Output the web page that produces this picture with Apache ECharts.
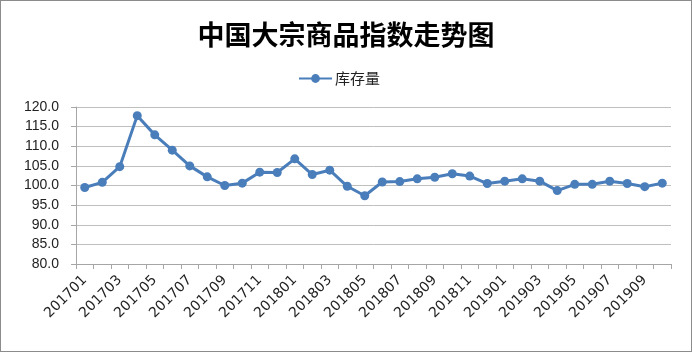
<!DOCTYPE html>
<html><head><meta charset="utf-8">
<script src="https://cdn.jsdelivr.net/npm/echarts@6/dist/echarts.min.js"></script>
<style>html,body{margin:0;padding:0;background:#fff}#c{width:690px;height:350px;border:1px solid #8c8c8c}</style>
</head><body><div id="c"></div>
<script>
const categories = ['201701','201702','201703','201704','201705','201706','201707','201708','201709','201710','201711','201712',
'201801','201802','201803','201804','201805','201806','201807','201808','201809','201810','201811','201812',
'201901','201902','201903','201904','201905','201906','201907','201908','201909','201910'];
const inventory = [99.5,100.8,104.8,117.8,112.9,109.0,105.0,102.2,100.0,100.6,103.4,103.3,
106.8,102.8,103.9,99.8,97.4,100.9,101.0,101.7,102.1,103.0,102.4,100.5,
101.1,101.7,101.1,98.7,100.3,100.3,101.1,100.5,99.7,100.6];
const chart = echarts.init(document.getElementById('c'));
chart.setOption({
  animation:false,
  title:{text:'中国大宗商品指数走势图',left:'center',top:15,
    textStyle:{fontFamily:'Noto Sans CJK SC',fontWeight:'bold',fontSize:27,color:'#000'}},
  legend:{data:['库存量'],top:65,left:292,itemWidth:33,itemHeight:11,itemGap:4,
    textStyle:{fontFamily:'Noto Sans CJK SC',fontSize:15,color:'#222',padding:[0,0,0,-2]}},
  grid:{left:75,right:20,top:106,bottom:87},
  xAxis:{type:'category',data:categories,boundaryGap:true,
    axisLine:{lineStyle:{color:'#a6a6a6'}},
    axisTick:{show:true,interval:0,length:5,lineStyle:{color:'#a6a6a6'}},
    axisLabel:{interval:1,rotate:45,fontSize:14,color:'#222',fontFamily:'DejaVu Sans',margin:14}},
  yAxis:{type:'value',min:80,max:120,interval:5,
    axisLine:{show:true,lineStyle:{color:'#a6a6a6'}},
    axisTick:{show:true,length:5,lineStyle:{color:'#a6a6a6'}},
    splitLine:{lineStyle:{color:'#bfbfbf',width:1}},
    axisLabel:{formatter:v=>v.toFixed(1),fontSize:14,color:'#222',fontFamily:'Liberation Sans',margin:17}},
  series:[{name:'库存量',type:'line',data:inventory,symbol:'circle',symbolSize:9,
    lineStyle:{color:'#4a7ebb',width:3},itemStyle:{color:'#4a7ebb'}}]
});
</script></body></html>
